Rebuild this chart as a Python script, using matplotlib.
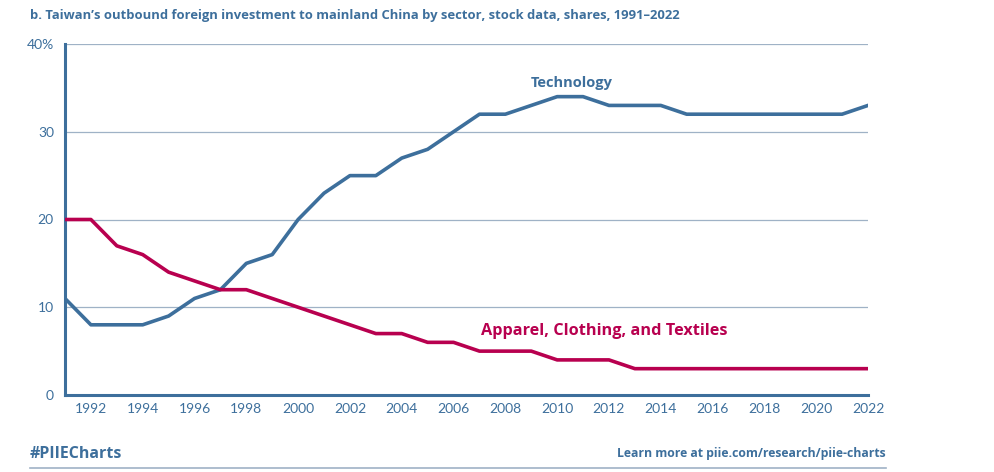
import numpy as np
import matplotlib.pyplot as plt

plt.rcParams['font.family'] = ['Lato', 'DejaVu Sans']

years = np.arange(1991, 2023)
technology = [11, 8, 8, 8, 9, 11, 12, 15, 16, 20, 23, 25, 25, 27, 28, 30,
              32, 32, 33, 34, 34, 33, 33, 33, 32, 32, 32, 32, 32, 32, 32, 33]
apparel = [20, 20, 17, 16, 14, 13, 12, 12, 11, 10, 9, 8, 7, 7, 6, 6,
           5, 5, 5, 4, 4, 4, 3, 3, 3, 3, 3, 3, 3, 3, 3, 3]
xtick_years = list(range(1992, 2023, 2))
ytick_vals = [0, 10, 20, 30, 40]
ytick_labels = ["0", "10", "20", "30", "40%"]

blue = "#3d6f9c"
red = "#b8004f"
grid = "#9fb2c6"
bold_font = ['Open Sans', 'DejaVu Sans']

fig = plt.figure(figsize=(9.95, 4.72), dpi=100)
ax = fig.add_axes([65/995, 1 - 395/472, (868-65)/995, (395-44)/472])

for v in ytick_vals[1:]:
    ax.axhline(v, color=grid, lw=0.9, zorder=1)

ax.plot(years, technology, color=blue, lw=2.6, zorder=3)
ax.plot(years, apparel, color=red, lw=2.6, zorder=3)

ax.set_xlim(1991, 2022)
ax.set_ylim(0, 40)
ax.set_xticks(xtick_years)
ax.set_xticklabels([str(y) for y in xtick_years])
ax.set_yticks(ytick_vals)
ax.set_yticklabels(ytick_labels)
ax.tick_params(axis='both', length=0, labelsize=10, colors=blue, pad=6)
ax.tick_params(axis='y', pad=8)

for s in ["top", "right"]:
    ax.spines[s].set_visible(False)
for s in ["left", "bottom"]:
    ax.spines[s].set_color(blue)
    ax.spines[s].set_linewidth(2.2)

ax.text(2010.55, 35.5, "Technology", color=blue, fontsize=10.5, fontweight='bold',
        ha='center', va='center', family=bold_font)
ax.text(2011.8, 7.3, "Apparel, Clothing, and Textiles", color=red, fontsize=11.7,
        fontweight='bold', ha='center', va='center', family=bold_font)

fig.text(30/995, 1 - 16/472, "b. Taiwan\u2019s outbound foreign investment to mainland China by sector, stock data, shares, 1991\u20132022",
         color=blue, fontsize=9.4, fontweight='bold', ha='left', va='center', family=bold_font)
fig.text(30/995, 1 - 454/472, "#PIIECharts", color=blue, fontsize=11.5,
         fontweight='bold', ha='left', va='center', family=bold_font)
fig.text(886/995, 1 - 454/472, "Learn more at piie.com/research/piie-charts", color=blue,
         fontsize=8.85, fontweight='bold', ha='right', va='center', family=bold_font)
fig.add_artist(plt.Line2D([30/995, 886/995], [1 - 468/472, 1 - 468/472],
                          color=grid, lw=1.2))

fig.savefig("out.png", dpi=100)
